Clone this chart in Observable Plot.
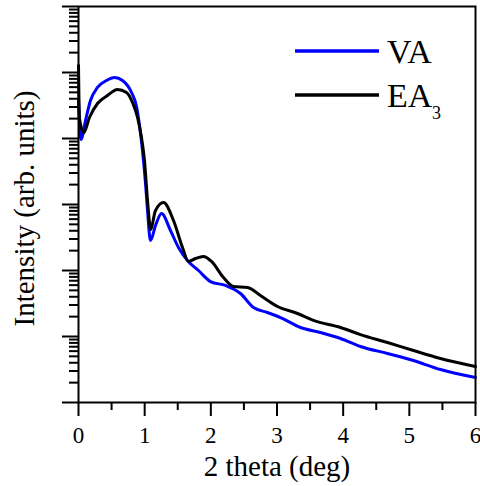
<!DOCTYPE html>
<html><head><meta charset="utf-8">
<script src="https://cdn.jsdelivr.net/npm/d3@7"></script>
<script src="https://cdn.jsdelivr.net/npm/@observablehq/plot@0.6"></script>
<style>body{margin:0;background:#fff}</style>
</head><body><div id="chart"></div>
<script>
// Series names
const seriesNames = ["VA", "EA", "3"]; // EA with subscript 3
// VA (blue)
const vaX = [0, 0.038, 0.106, 0.181, 0.287, 0.423, 0.544, 0.665, 0.801, 0.877, 0.922, 0.967, 1.013, 1.043, 1.088,
  1.164, 1.254, 1.39, 1.511, 1.647, 1.814, 1.995, 2.222, 2.448, 2.645, 2.856, 3.053, 3.355, 3.657, 3.96, 4.262, 4.67, 5.063, 5.471, 6.0];
const vaY = [37700, 9660, 18700, 37700, 59300, 75600, 84000, 75600, 49800, 30500, 15700, 6580, 2080, 811, 285,
  480, 731, 404, 223, 142, 100, 68, 59.3, 44.8, 27.5, 23.1, 19.4, 13.7, 11.5, 9.33, 7.05, 5.53, 4.33, 3.16, 2.39];
// EA3 (black)
const eaX = [0, 0.015, 0.08, 0.166, 0.287, 0.438, 0.589, 0.725, 0.816, 0.892, 0.952, 0.997, 1.043, 1.073, 1.088,
  1.164, 1.285, 1.436, 1.572, 1.662, 1.768, 1.889, 2.01, 2.191, 2.342, 2.554, 2.75, 3.007, 3.31, 3.551, 3.96, 4.262, 4.67, 5.063, 5.471, 6.0];
const eaY = [127700, 20100, 12300, 20800, 33900, 44800, 55300, 49800, 35100, 20800, 10360, 4640, 1150, 534, 418,
  811, 1072, 572, 223, 137, 152, 163, 137, 78.3, 57.2, 55.3, 41.8, 28.5, 22.3, 17.5, 13.7, 10.7, 8.11, 6.13, 4.64, 3.51];
// Ticks
const xTicks = [0, 1, 2, 3, 4, 5, 6];
const xTickLabels = ["0", "1", "2", "3", "4", "5", "6"];
const xMinorTicks = [0.5, 1.5, 2.5, 3.5, 4.5, 5.5];
const yMajorTicks = [1, 10, 100, 1000, 10000, 100000, 1000000];
const yMinorTicks = yMajorTicks.slice(0, -1).flatMap(d => [2,3,4,5,6,7,8,9].map(k => k * d));

const va = vaX.map((x, i) => ({x, y: vaY[i]}));
const ea = eaX.map((x, i) => ({x, y: eaY[i]}));
const FONT = "'Liberation Serif', 'Times New Roman', serif";

const chart = Plot.plot({
  width: 480, height: 486,
  marginLeft: 78, marginRight: 5, marginTop: 6, marginBottom: 84,
  x: {domain: [0, 6]},
  y: {type: "log", domain: [1, 1e6]},
  style: {fontFamily: FONT, color: "black", background: "white", overflow: "visible"},
  marks: [
    Plot.line(va, {x: "x", y: "y", stroke: "#0000ff", strokeWidth: 3, curve: "monotone-x"}),
    Plot.line(ea, {x: "x", y: "y", stroke: "#000000", strokeWidth: 3, curve: "monotone-x"}),
    Plot.axisY({ticks: yMajorTicks, tickSize: 16, tickFormat: () => "", strokeWidth: 2, label: null}),
    Plot.axisY({ticks: yMinorTicks, tickSize: 9, tickFormat: () => "", strokeWidth: 2, label: null}),
    Plot.axisX({ticks: xTicks, tickSize: 14, tickPadding: 10, fontSize: 23, strokeWidth: 2, label: null,
      tickFormat: d => xTickLabels[xTicks.indexOf(d)]}),
    Plot.axisX({ticks: xMinorTicks, tickSize: 8, tickFormat: () => "", strokeWidth: 2, label: null}),
    Plot.frame({stroke: "black", strokeWidth: 2}),
    Plot.text(["2 theta (deg)"], {frameAnchor: "bottom", dy: 73, fontSize: 29, fill: "black", textAnchor: "middle"}),
    Plot.text(["Intensity (arb. units)"], {frameAnchor: "left", rotate: -90, dx: -54, dy: 4, fontSize: 29, fill: "black", textAnchor: "middle"})
  ]
});

// Legend (inside the frame, top right)
const svg = d3.select(chart);
const lg = svg.append("g").attr("font-family", FONT).attr("fill", "black").attr("text-anchor", "start");
const items = [{name: seriesNames[0], color: "#0000ff", y: 51}, {name: seriesNames[1], color: "#000000", y: 95}];
items.forEach(it => {
  lg.append("line").attr("x1", 295).attr("x2", 379).attr("y1", it.y).attr("y2", it.y)
    .attr("stroke", it.color).attr("stroke-width", 3.5);
  lg.append("text").attr("x", 387).attr("y", it.y + 12).attr("font-size", 34).text(it.name);
});
lg.append("text").attr("x", 432).attr("y", 119).attr("font-size", 18).text(seriesNames[2]);

document.getElementById("chart").appendChild(chart);
</script>
</body></html>
